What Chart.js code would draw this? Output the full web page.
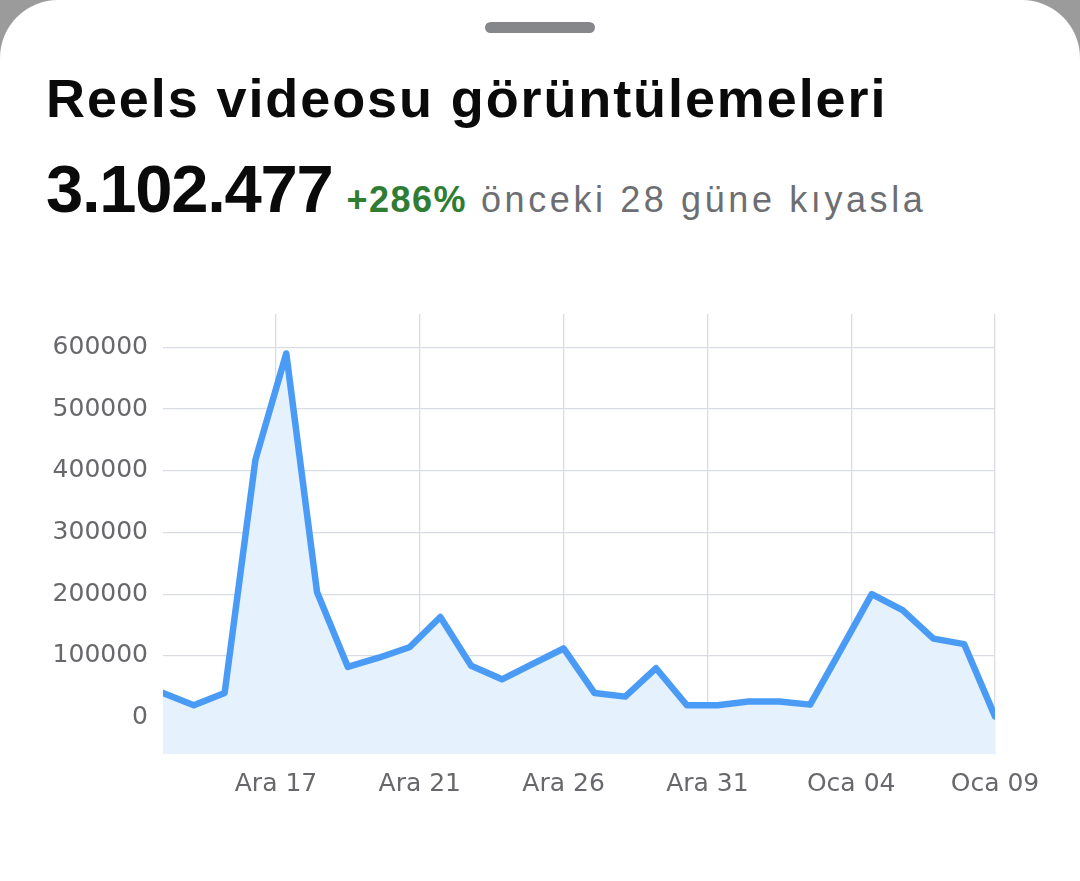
<!DOCTYPE html>
<html lang="tr">
<head>
<meta charset="utf-8">
<title>Reels videosu görüntülemeleri</title>
<script src="https://cdn.jsdelivr.net/npm/chart.js@4.4.1/dist/chart.umd.min.js"></script>
<style>
html, body { margin: 0; padding: 0; background: #9b9b9b; width: 1080px; height: 881px; overflow: hidden; }
#kart { position: absolute; left: 0; top: 0; width: 1080px; height: 881px; background: #fff; border-radius: 58px 58px 0 0; overflow: hidden; }
#tutamac { position: absolute; left: 485px; top: 22px; width: 110px; height: 11px; border-radius: 6px; background: #85878b; }
#baslik { position: absolute; left: 46px; top: 71px; margin: 0; font: bold 54px/54px 'Liberation Sans', Arial, sans-serif; letter-spacing: 1.9px; color: #0a0a0a; white-space: nowrap; }
#ozet { position: absolute; left: 46px; top: 155px; line-height: 67px; white-space: nowrap; font-family: 'Liberation Sans', Arial, sans-serif; }
#toplam { font-size: 67px; font-weight: bold; color: #0a0a0a; letter-spacing: -1.3px; }
#artis { font-size: 36px; line-height: 1; font-weight: bold; color: #2e7d32; margin-left: 14px; letter-spacing: 1.5px; }
#kiyas { font-size: 36px; line-height: 1; color: #6d6e72; margin-left: 14px; letter-spacing: 3.6px; }
#grafik { position: absolute; left: 0; top: 284px; width: 1080px; height: 597px; }
</style>
</head>
<body>
<div id="kart">
  <div id="tutamac"></div>
  <h1 id="baslik">Reels videosu görüntülemeleri</h1>
  <div id="ozet"><span id="toplam">3.102.477</span><span id="artis">+286%</span><span id="kiyas">önceki 28 güne kıyasla</span></div>
  <div id="grafik"><canvas id="grafik-reels"></canvas></div>
</div>
<script>
// 28 gun, Ara 13 - Oca 09
const gunler = ['Ara 13', 'Ara 14', 'Ara 15', 'Ara 16', 'Ara 17', 'Ara 18', 'Ara 19', 'Ara 20',
    'Ara 21', 'Ara 22', 'Ara 23', 'Ara 24', 'Ara 25', 'Ara 26', 'Ara 27', 'Ara 28', 'Ara 29',
    'Ara 30', 'Ara 31', 'Oca 01', 'Oca 02', 'Oca 03', 'Oca 04', 'Oca 05', 'Oca 06', 'Oca 07',
    'Oca 08', 'Oca 09'];
const goruntuleme = [40000, 20000, 40000, 418000, 590000, 203000, 82000, 97000, 114000, 163000,
    84000, 62000, 87000, 112000, 40000, 34000, 80000, 20000, 20000, 26000, 26000, 21000, 110000,
    200000, 174000, 128000, 119000, 2000];
const eksenEtiketleri = ['Ara 17', 'Ara 21', 'Ara 26', 'Ara 31', 'Oca 04', 'Oca 09'];
const yMin = -59000;
const yMax = 654000;
const yAdim = 100000;

const etiketFontu = { family: "'DejaVu Sans', sans-serif", size: 25 };
const etiketRengi = '#68686c';
const izgaraRengi = '#d9dde3';

const ctx = document.getElementById('grafik-reels');
const grafik = new Chart(ctx, {
    type: 'line',
    data: {
        datasets: [{
            label: 'Reels videosu görüntülemeleri',
            data: goruntuleme.map((v, i) => ({ x: i, y: v })),
            borderColor: '#4a9bf5',
            backgroundColor: '#e5f1fd',
            borderWidth: 6.5,
            borderJoinStyle: 'round',
            borderCapStyle: 'round',
            pointRadius: 0,
            tension: 0,
            fill: 'start'
        }]
    },
    options: {
        responsive: true,
        maintainAspectRatio: false,
        animation: false,
        layout: { padding: { top: 0, right: 85, left: 0, bottom: 0 } },
        plugins: {
            legend: { display: false },
            tooltip: {
                callbacks: { title: (items) => gunler[items[0].parsed.x] }
            }
        },
        scales: {
            x: {
                type: 'linear',
                min: 0,
                max: gunler.length - 1,
                border: { display: false },
                grid: { color: izgaraRengi, lineWidth: 1.3, drawTicks: false },
                afterBuildTicks: (s) => {
                    const adim = gunler.length / eksenEtiketleri.length;
                    const n = eksenEtiketleri.length;
                    s.ticks = eksenEtiketleri.map((_, k) => ({ value: s.max - (n - 1 - k) * adim }));
                },
                afterFit: (s) => { s.height = 127; },
                ticks: {
                    autoSkip: false,
                    maxRotation: 0,
                    padding: 15,
                    font: etiketFontu,
                    color: etiketRengi,
                    callback: (v, i) => eksenEtiketleri[i]
                }
            },
            y: {
                min: yMin,
                max: yMax,
                border: { display: false },
                grid: { color: izgaraRengi, lineWidth: 1.3, drawTicks: false },
                afterBuildTicks: (s) => {
                    const t = [];
                    for (let v = 0; v <= s.max; v += yAdim) t.push({ value: v });
                    s.ticks = t;
                },
                afterFit: (s) => { s.width = 163; },
                ticks: {
                    padding: 15,
                    font: etiketFontu,
                    color: etiketRengi,
                    callback: (v) => String(v)
                }
            }
        }
    }
});
</script>
</body>
</html>
